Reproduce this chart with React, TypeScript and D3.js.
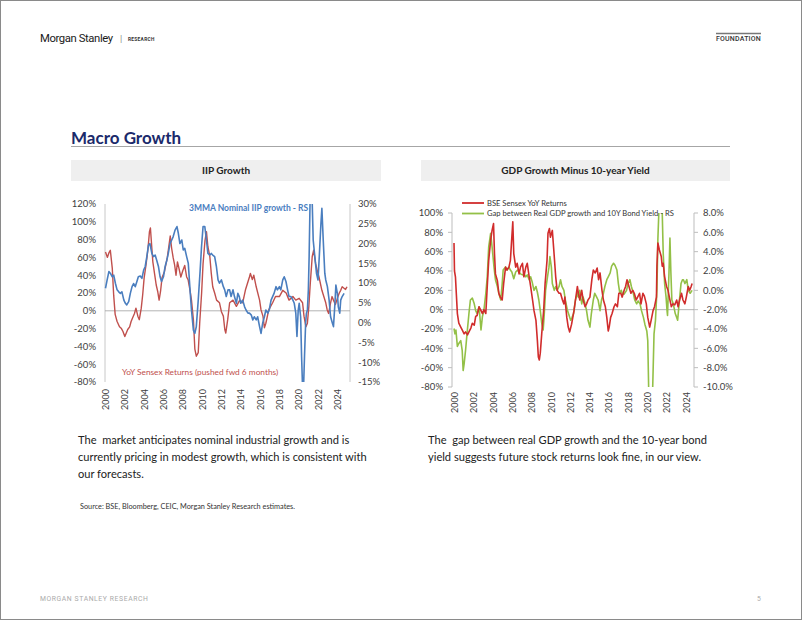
import React from "react";
import * as d3 from "d3";

// ---------- DATA ----------
// Left chart (IIP Growth): [year, value]
const sensexShiftedLS: [number, number][] = [
  [2000.0, 66], [2000.2, 60], [2000.35, 65], [2000.5, 68], [2000.7, 48], [2000.85, 17],
  [2001.0, -4], [2001.2, -12], [2001.45, -18], [2001.65, -20], [2001.8, -23], [2002.0, -29],
  [2002.15, -25], [2002.3, -21], [2002.5, -18], [2002.65, -12], [2002.8, -8], [2003.0, -3],
  [2003.15, 3], [2003.35, -6], [2003.5, -10], [2003.7, 3], [2003.85, 18], [2004.0, 37],
  [2004.2, 52], [2004.4, 70], [2004.55, 89], [2004.65, 93], [2004.8, 70], [2004.9, 55],
  [2005.1, 40], [2005.25, 29], [2005.4, 22], [2005.55, 12], [2005.7, 22], [2005.85, 37],
  [2006.1, 44], [2006.4, 60], [2006.55, 72], [2006.7, 84], [2006.85, 70], [2007.0, 60],
  [2007.15, 52], [2007.3, 40], [2007.45, 55], [2007.6, 48], [2007.8, 38], [2008.0, 45],
  [2008.2, 51], [2008.4, 38], [2008.55, 35], [2008.75, 23], [2008.9, 12], [2009.1, -10],
  [2009.25, -43], [2009.4, -51], [2009.6, -47], [2009.75, -14], [2009.95, 20], [2010.1, 53],
  [2010.3, 79], [2010.45, 89], [2010.6, 72], [2010.8, 61], [2010.95, 42], [2011.1, 27],
  [2011.3, 20], [2011.5, 12], [2011.8, 9], [2012.0, -1], [2012.2, -6], [2012.35, -21],
  [2012.45, -25], [2012.65, -10], [2012.85, 9], [2013.2, 12], [2013.55, 5], [2013.9, 12],
  [2014.2, 9], [2014.5, 24], [2014.9, 38], [2015.0, 42], [2015.2, 35], [2015.35, 40],
  [2015.6, 27], [2015.95, 12], [2016.1, 1], [2016.3, -6], [2016.45, -19], [2016.6, -14],
  [2016.9, 1], [2017.3, 9], [2017.6, 16], [2018.0, 16], [2018.35, 23], [2018.7, 20],
  [2019.0, 12], [2019.4, 16], [2019.7, 12], [2020.05, 14], [2020.4, 9], [2020.55, -6],
  [2020.75, -18], [2020.9, -14], [2021.05, 5], [2021.2, 31], [2021.4, 61], [2021.55, 68],
  [2021.75, 53], [2021.9, 46], [2022.1, 38], [2022.4, 23], [2022.8, 9], [2022.95, 1],
  [2023.1, -3], [2023.3, 9], [2023.45, 16], [2023.6, 12], [2023.8, 7], [2024.0, 14],
  [2024.2, 20], [2024.35, 23], [2024.5, 27], [2024.85, 24], [2025.0, 27],
];

const iipGrowthRS: [number, number][] = [
  [2000.0, 8.7], [2000.17, 10.8], [2000.35, 12.9], [2000.5, 12.5], [2000.7, 11.6], [2000.85, 12.0],
  [2001.03, 9.9], [2001.2, 8.3], [2001.37, 7.8], [2001.54, 7.4], [2001.7, 7.8], [2001.9, 5.7],
  [2002.06, 4.9], [2002.2, 4.5], [2002.4, 5.3], [2002.57, 7.4], [2002.75, 9.1], [2002.91, 9.9],
  [2003.08, 9.1], [2003.25, 10.4], [2003.4, 11.6], [2003.6, 11.8], [2003.77, 11.2], [2003.95, 13.3],
  [2004.11, 14.2], [2004.28, 16.7], [2004.45, 19.6], [2004.6, 20.0], [2004.8, 17.5], [2004.97, 16.7],
  [2005.14, 17.1], [2005.3, 15.8], [2005.48, 14.2], [2005.65, 11.6], [2005.8, 10.4], [2006.0, 11.6],
  [2006.17, 14.2], [2006.35, 15.8], [2006.5, 17.5], [2006.68, 20.0], [2007.0, 21.7], [2007.2, 23.4],
  [2007.4, 24.3], [2007.54, 22.6], [2007.7, 20.0], [2007.9, 20.9], [2008.05, 18.4], [2008.2, 18.8],
  [2008.4, 16.7], [2008.57, 15.0], [2008.75, 8.3], [2008.9, 3.2], [2009.1, -1.9], [2009.25, -2.7],
  [2009.4, -1.0], [2009.6, 5.7], [2009.8, 13.3], [2009.94, 19.2], [2010.1, 24.3], [2010.28, 24.3],
  [2010.45, 20.9], [2010.6, 17.5], [2010.8, 17.1], [2010.95, 17.5], [2011.1, 17.1], [2011.3, 16.7],
  [2011.48, 14.2], [2011.65, 10.8], [2011.8, 10.0], [2012.0, 10.8], [2012.2, 9.1], [2012.34, 8.3],
  [2012.5, 6.6], [2012.68, 8.3], [2012.85, 8.3], [2013.0, 6.6], [2013.2, 8.3], [2013.35, 6.6],
  [2013.55, 4.9], [2013.7, 7.4], [2013.85, 6.6], [2014.0, 4.9], [2014.2, 5.7], [2014.4, 4.0],
  [2014.55, 3.2], [2014.75, 2.4], [2014.9, 2.4], [2015.1, 1.9], [2015.25, 0.7], [2015.4, 1.5],
  [2015.6, 0.7], [2015.75, 1.5], [2015.95, -1.0], [2016.1, -2.7], [2016.28, 0.0], [2016.45, 1.5],
  [2016.6, 3.2], [2016.8, 2.4], [2016.95, 3.2], [2017.14, 5.7], [2017.3, 6.6], [2017.45, 7.4],
  [2017.65, 9.1], [2017.8, 8.3], [2018.0, 9.1], [2018.15, 8.3], [2018.35, 10.8], [2018.5, 11.6],
  [2018.68, 10.4], [2018.85, 8.3], [2019.0, 6.6], [2019.2, 6.6], [2019.4, 5.7], [2019.54, 4.9],
  [2019.7, 2.4], [2019.82, -3.5], [2019.95, 3.2], [2020.05, 4.9], [2020.2, 1.5], [2020.3, -8.6],
  [2020.4, -16.5], [2020.5, -16.5], [2020.6, -8.6], [2020.72, 0.0], [2020.8, 2.4], [2020.9, 3.2],
  [2021.0, 8.3], [2021.08, 16.7], [2021.2, 34.0], [2021.36, 34.0], [2021.5, 20.9], [2021.67, 16.7],
  [2021.84, 12.5], [2022.0, 10.8], [2022.13, 16.7], [2022.3, 25.0], [2022.4, 28.9], [2022.54, 20.9],
  [2022.7, 12.5], [2022.8, 10.8], [2022.97, 9.1], [2023.15, 5.7], [2023.3, 1.5], [2023.5, -0.2],
  [2023.6, -1.0], [2023.73, 4.0], [2023.85, 9.5], [2024.0, 7.4], [2024.1, 4.0], [2024.25, 2.4],
  [2024.35, 5.7], [2024.5, 6.6], [2024.7, 7.4],
];

// Right chart (GDP growth minus 10Y yield)
const sensexYoY: [number, number][] = [
  [2000.0, 69], [2000.05, 40], [2000.15, 34], [2000.25, 15], [2000.35, -4], [2000.5, -14],
  [2000.7, -18], [2000.85, -21], [2001.05, -25], [2001.2, -23], [2001.4, -26], [2001.55, -23],
  [2001.75, -19], [2001.9, -14], [2002.1, -16], [2002.25, -7], [2002.4, -6], [2002.6, 3],
  [2002.75, 0], [2002.95, -4], [2003.1, 0], [2003.3, -4], [2003.45, 24], [2003.6, 51],
  [2003.8, 72], [2003.95, 82], [2004.1, 89], [2004.2, 58], [2004.3, 37], [2004.5, 30],
  [2004.65, 17], [2004.8, 13], [2005.0, 10], [2005.15, 27], [2005.35, 44], [2005.5, 41],
  [2005.7, 44], [2005.85, 51], [2006.0, 75], [2006.1, 91], [2006.2, 58], [2006.4, 44],
  [2006.55, 48], [2006.75, 37], [2006.9, 44], [2007.1, 48], [2007.25, 34], [2007.45, 44],
  [2007.6, 48], [2007.8, 34], [2007.95, 24], [2008.15, 10], [2008.3, -1], [2008.5, -11],
  [2008.65, -32], [2008.75, -49], [2008.85, -52], [2008.95, -45], [2009.1, -25], [2009.3, -1],
  [2009.45, 27], [2009.65, 51], [2009.75, 79], [2009.9, 84], [2010.0, 75], [2010.2, 82],
  [2010.35, 62], [2010.55, 34], [2010.7, 20], [2010.9, 17], [2011.05, 17], [2011.25, 10],
  [2011.4, 6], [2011.5, 13], [2011.7, -8], [2011.85, -18], [2012.0, -23], [2012.2, -15],
  [2012.45, -1], [2012.6, 10], [2012.8, 24], [2012.9, 17], [2013.05, 10], [2013.25, 20],
  [2013.4, 10], [2013.6, 3], [2013.75, 6], [2013.9, 10], [2014.1, 13], [2014.3, 31],
  [2014.45, 41], [2014.65, 38], [2014.85, 43], [2015.0, 31], [2015.15, 38], [2015.35, 20],
  [2015.5, 10], [2015.7, 3], [2015.85, -8], [2016.0, -22], [2016.1, -18], [2016.25, -8],
  [2016.4, -4], [2016.6, 3], [2016.75, 6], [2016.95, 3], [2017.1, 17], [2017.3, 17],
  [2017.45, 13], [2017.65, 20], [2017.8, 24], [2017.95, 31], [2018.15, 24], [2018.35, 17],
  [2018.55, 20], [2018.7, 17], [2018.9, 10], [2019.05, 13], [2019.25, 17], [2019.4, 6],
  [2019.6, 17], [2019.75, 14], [2019.95, 6], [2020.1, -8], [2020.3, -18], [2020.45, -11],
  [2020.65, -1], [2020.8, 3], [2021.0, 13], [2021.05, 45], [2021.15, 69], [2021.3, 62],
  [2021.5, 55], [2021.6, 45], [2021.7, 48], [2021.85, 34], [2022.05, 24], [2022.2, 20],
  [2022.4, 10], [2022.55, 3], [2022.7, 6], [2022.9, 5], [2023.1, 10], [2023.25, 3],
  [2023.4, 10], [2023.6, 17], [2023.75, 10], [2023.95, 6], [2024.1, 13], [2024.3, 24],
  [2024.45, 20], [2024.6, 24], [2024.7, 27],
];

const gdpGapRS: [number, number][] = [
  [2000.0, -3.95], [2000.1, -4.5], [2000.2, -4.1], [2000.35, -5.8], [2000.5, -5.5], [2000.7, -5.2],
  [2000.85, -6.2], [2000.95, -8.3], [2001.05, -7.6], [2001.2, -6.2], [2001.35, -4.5], [2001.55, -2.4],
  [2001.7, -1.0], [2001.9, -0.8], [2002.1, -1.4], [2002.25, -2.1], [2002.4, -2.4], [2002.6, -1.7],
  [2002.8, -4.1], [2002.95, -2.7], [2003.1, -2.1], [2003.3, -0.3], [2003.45, 1.4], [2003.6, 4.5],
  [2003.8, 5.9], [2003.95, 4.5], [2004.15, 2.4], [2004.3, 1.1], [2004.5, 0.4], [2004.65, -0.3],
  [2004.85, -1.0], [2005.0, 0.7], [2005.1, 2.1], [2005.35, 2.4], [2005.5, 2.1], [2005.7, 2.4],
  [2005.85, 2.1], [2006.0, 1.9], [2006.2, 1.2], [2006.4, 1.9], [2006.6, 2.1], [2006.75, 1.9],
  [2006.9, 1.7], [2007.1, 1.6], [2007.25, 1.7], [2007.45, 1.4], [2007.6, 1.6], [2007.8, 1.1],
  [2007.95, 1.4], [2008.1, 0.9], [2008.3, 0.0], [2008.5, 0.4], [2008.65, -0.2], [2008.8, -1.0],
  [2008.95, -2.1], [2009.1, -3.4], [2009.25, -4.1], [2009.35, -2.7], [2009.5, 0.0], [2009.7, 1.4],
  [2009.85, 2.4], [2009.95, 3.5], [2010.1, 2.4], [2010.2, 0.7], [2010.4, 0.0], [2010.55, 0.4],
  [2010.7, 0.0], [2010.9, 0.4], [2011.05, 1.1], [2011.2, 0.4], [2011.4, 0.0], [2011.55, -1.0],
  [2011.75, -2.0], [2012.1, -3.1], [2012.25, -2.8], [2012.4, -2.4], [2012.6, -1.0], [2012.8, -0.3],
  [2012.9, -0.7], [2013.05, 0.0], [2013.25, -1.4], [2013.4, -0.7], [2013.6, -1.4], [2013.75, -2.1],
  [2013.9, -3.1], [2014.1, -3.8], [2014.25, -2.4], [2014.45, -1.0], [2014.6, -0.3], [2014.8, -0.7],
  [2014.95, -1.0], [2015.15, -2.1], [2015.3, -1.0], [2015.5, -0.3], [2015.65, 0.4], [2015.85, 1.1],
  [2016.0, 1.4], [2016.2, 1.8], [2016.35, 2.5], [2016.55, 2.8], [2016.7, 2.6], [2016.9, 2.1],
  [2017.05, 0.7], [2017.2, -0.3], [2017.35, 0.0], [2017.45, -0.3], [2017.65, -0.4], [2017.9, 0.0],
  [2018.05, 0.7], [2018.25, 1.1], [2018.4, 0.4], [2018.6, -0.3], [2018.75, -1.0], [2018.95, -1.4],
  [2019.1, -1.1], [2019.3, -1.4], [2019.45, -2.1], [2019.65, -2.8], [2019.8, -3.5], [2020.0, -4.2],
  [2020.1, -5.2], [2020.2, -10.5], [2020.4, -10.8], [2020.6, -10.5], [2020.75, -4.5], [2020.9, -3.1],
  [2021.05, 0.0], [2021.15, 5.3], [2021.25, 8.1], [2021.35, 9.5], [2021.5, 9.5], [2021.6, 8.1],
  [2021.7, 3.9], [2021.85, 0.7], [2022.0, -0.7], [2022.1, -2.1], [2022.15, -2.6], [2022.3, 1.8],
  [2022.4, 5.4], [2022.5, 1.8], [2022.6, -1.0], [2022.75, -1.4], [2022.95, -2.4], [2023.1, -2.8],
  [2023.2, -3.1], [2023.35, -1.4], [2023.55, 0.7], [2023.7, 1.1], [2023.8, 1.1], [2023.95, 0.7],
  [2024.15, 1.1], [2024.3, 0.0], [2024.5, -0.3], [2024.7, 0.0],
];

const leftYTicksA = [120, 100, 80, 60, 40, 20, 0, -20, -40, -60, -80];
const rightYTicksA = [30, 25, 20, 15, 10, 5, 0, -5, -10, -15];
const leftYTicksB = [100, 80, 60, 40, 20, 0, -20, -40, -60, -80];
const rightYTicksB = [8, 6, 4, 2, 0, -2, -4, -6, -8, -10];
const yearTicks = [2000, 2002, 2004, 2006, 2008, 2010, 2012, 2014, 2016, 2018, 2020, 2022, 2024];

const leftNote = [
  "The  market anticipates nominal industrial growth and is",
  "currently pricing in modest growth, which is consistent with",
  "our forecasts.",
];
const rightNote = [
  "The  gap between real GDP growth and the 10-year bond",
  "yield suggests future stock returns look fine, in our view.",
];

// ---------- STYLE ----------
const FONT = "Lato, 'Open Sans', sans-serif";
const AX = "#404040";
const RED_A = "#c0504d";
const BLUE_A = "#4a7ebf";
const RED_B = "#d12c2c";
const GREEN_B = "#93c047";

export default function App() {
  // left chart scales
  const xA = d3.scaleLinear().domain([2000, 2025]).range([105.5, 347]);
  const yAL = d3.scaleLinear().domain([-80, 120]).range([382, 204]);
  const yAR = d3.scaleLinear().domain([-15, 30]).range([382, 204]);
  // right chart scales
  const xB = d3.scaleLinear().domain([2000, 2025]).range([454, 695]);
  const yBL = d3.scaleLinear().domain([-80, 100]).range([387, 213]);
  const yBR = d3.scaleLinear().domain([-10, 8]).range([387, 213]);

  const lineAL = d3.line<[number, number]>().x(d => xA(d[0])).y(d => yAL(d[1]));
  const lineAR = d3.line<[number, number]>().x(d => xA(d[0])).y(d => yAR(d[1]));
  const lineBL = d3.line<[number, number]>().x(d => xB(d[0])).y(d => yBL(d[1]));
  const lineBR = d3.line<[number, number]>().x(d => xB(d[0])).y(d => yBR(d[1]));

  return (
    <svg width={802} height={620} style={{ position: "absolute", left: 0, top: 0, background: "#fff" }} fontFamily={FONT}>
      <defs>
        <clipPath id="clipA"><rect x={100} y={204} width={250} height={178} /></clipPath>
        <clipPath id="clipB"><rect x={450} y={213} width={244} height={174} /></clipPath>
      </defs>
      <rect x={0.5} y={0.5} width={801} height={619} fill="#fff" stroke="#8a8a8a" />

      {/* header */}
      <text x={40} y={42} fontFamily="Roboto, sans-serif" fontSize={11.3} fill="#1a1a1a" letterSpacing={-0.4}>Morgan Stanley</text>
      <text x={120} y={41.5} fontFamily="Roboto, sans-serif" fontSize={9} fill="#888">|</text>
      <text x={128} y={40.5} fontFamily="Roboto, sans-serif" fontSize={4.8} fontWeight={700} fill="#333" letterSpacing={0.3}>RESEARCH</text>
      <line x1={716} x2={761} y1={33.5} y2={33.5} stroke="#777" strokeWidth={1.5} />
      <text x={761} y={41} textAnchor="end" fontFamily="Roboto, sans-serif" fontSize={7} fontWeight={500} fill="#333" letterSpacing={0.2}>FOUNDATION</text>

      {/* title */}
      <text x={71} y={144} fontSize={17} fontWeight={700} fill="#1b2a6b">Macro Growth</text>
      <line x1={71} x2={730} y1={146.5} y2={146.5} stroke="#a6a6a6" strokeWidth={1} />

      {/* panel headers */}
      <rect x={71} y={160} width={310} height={21} fill="#efefef" />
      <rect x={421} y={160} width={309} height={21} fill="#efefef" />
      <text x={226} y={174} textAnchor="middle" fontSize={10} fontWeight={700} fill="#222">IIP Growth</text>
      <text x={575.5} y={174} textAnchor="middle" fontSize={10} fontWeight={700} fill="#222">GDP Growth Minus 10-year Yield</text>

      {/* ---------- left chart ---------- */}
      <line x1={105} x2={105} y1={204} y2={382} stroke="#c8c8c8" />
      <line x1={350} x2={350} y1={204} y2={382} stroke="#c8c8c8" />
      <line x1={105} x2={350} y1={yAL(0)} y2={yAL(0)} stroke="#a0a0a0" strokeWidth={0.8} />
      {leftYTicksA.map(t => (
        <text key={"al" + t} x={96} y={yAL(t)} dy="0.35em" textAnchor="end" fontSize={9.5} fill={AX}>{t}%</text>
      ))}
      {rightYTicksA.map(t => (
        <text key={"ar" + t} x={358} y={yAR(t)} dy="0.35em" textAnchor="start" fontSize={9.5} fill={AX}>{t}%</text>
      ))}
      {yearTicks.map(t => (
        <text key={"ax" + t} transform={`translate(${xA(t) + 0.5},389) rotate(-90)`} dy="0.35em" textAnchor="end" fontSize={9} fill={AX}>{t}</text>
      ))}
      <g clipPath="url(#clipA)">
        <path d={lineAL(sensexShiftedLS) || ""} fill="none" stroke={RED_A} strokeWidth={1.4} strokeLinejoin="round" />
        <path d={lineAR(iipGrowthRS) || ""} fill="none" stroke={BLUE_A} strokeWidth={1.6} strokeLinejoin="round" />
      </g>
      <text x={189} y={211} fontSize={8.5} fontWeight={700} fill={BLUE_A}>3MMA Nominal IIP growth - RS</text>
      <text x={122} y={375} fontSize={8.3} fill={RED_A}>YoY Sensex Returns (pushed fwd 6 months)</text>

      {/* ---------- right chart ---------- */}
      <line x1={452} x2={452} y1={213} y2={387} stroke="#bdbdbd" />
      <line x1={694} x2={694} y1={213} y2={387} stroke="#bdbdbd" />
      {leftYTicksB.map(t => (
        <line key={"blt" + t} x1={448} x2={452} y1={yBL(t)} y2={yBL(t)} stroke="#bdbdbd" />
      ))}
      {rightYTicksB.map(t => (
        <line key={"brt" + t} x1={694} x2={698} y1={yBR(t)} y2={yBR(t)} stroke="#bdbdbd" />
      ))}
      <line x1={452} x2={694} y1={yBL(0)} y2={yBL(0)} stroke="#a0a0a0" strokeWidth={0.8} />
      {leftYTicksB.map(t => (
        <text key={"bl" + t} x={443} y={yBL(t)} dy="0.35em" textAnchor="end" fontSize={9.5} fill={AX}>{t}%</text>
      ))}
      {rightYTicksB.map(t => (
        <text key={"br" + t} x={703} y={yBR(t)} dy="0.35em" textAnchor="start" fontSize={9.5} fill={AX}>{t.toFixed(1)}%</text>
      ))}
      {yearTicks.map(t => (
        <text key={"bx" + t} transform={`translate(${xB(t) + 1},392) rotate(-90)`} dy="0.35em" textAnchor="end" fontSize={9} fill={AX}>{t}</text>
      ))}
      <g clipPath="url(#clipB)">
        <path d={lineBR(gdpGapRS) || ""} fill="none" stroke={GREEN_B} strokeWidth={1.6} strokeLinejoin="round" />
        <path d={lineBL(sensexYoY) || ""} fill="none" stroke={RED_B} strokeWidth={1.6} strokeLinejoin="round" />
      </g>
      {/* legend */}
      <line x1={462} x2={484} y1={203} y2={203} stroke={RED_B} strokeWidth={1.8} />
      <text x={487} y={203} dy="0.35em" fontSize={7.6} fill="#333">BSE Sensex YoY Returns</text>
      <line x1={462} x2={484} y1={213.5} y2={213.5} stroke={GREEN_B} strokeWidth={1.8} />
      <text x={487} y={213.5} dy="0.35em" fontSize={7.6} fill="#333">Gap between Real GDP growth and 10Y Bond Yield - RS</text>

      {/* notes */}
      {leftNote.map((s, i) => (
        <text key={"ln" + i} x={78} y={444 + i * 17} fontSize={11.1} fill="#222" style={{ whiteSpace: "pre" }}>{s}</text>
      ))}
      {rightNote.map((s, i) => (
        <text key={"rn" + i} x={428} y={444 + i * 17} fontSize={11.1} fill="#222" style={{ whiteSpace: "pre" }}>{s}</text>
      ))}
      <text x={80} y={509} fontSize={7.3} fill="#333">Source: BSE, Bloomberg, CEIC, Morgan Stanley Research estimates.</text>

      {/* footer */}
      <text x={40} y={601} fontFamily="Roboto, sans-serif" fontSize={6.8} fill="#aaa" letterSpacing={0.6}>MORGAN STANLEY RESEARCH</text>
      <text x={757} y={601} fontFamily="Roboto, sans-serif" fontSize={6.8} fill="#aaa">5</text>
    </svg>
  );
}
